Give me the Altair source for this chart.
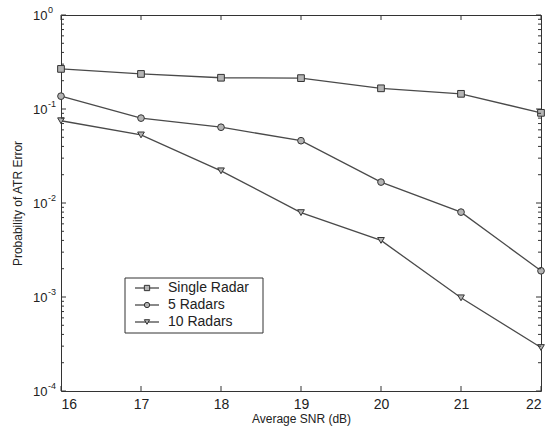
import altair as alt
import pandas as pd

# Probability of ATR error versus average SNR for one, five and ten radars
snr_db = [16, 17, 18, 19, 20, 21, 22]
single_radar = [0.267, 0.236, 0.215, 0.213, 0.166, 0.145, 0.091]
five_radars = [0.137, 0.080, 0.064, 0.046, 0.0167, 0.008, 0.0019]
ten_radars = [0.075, 0.053, 0.022, 0.0079, 0.004, 0.00098, 0.00029]
series_names = ["Single Radar", "5 Radars", "10 Radars"]
y_decades = [1e-4, 1e-3, 1e-2, 1e-1, 1.0]
y_exponents = ["-4", "-3", "-2", "-1", "0"]

W, H = 480, 376
LINE = "#4a4a4a"
FONT = "Liberation Sans"
SHAPES = ["square", "circle", "triangle-down"]

rows = []
for name, vals in zip(series_names, [single_radar, five_radars, ten_radars]):
    for s, p in zip(snr_db, vals):
        rows.append({"snr": s, "p": p, "series": name})
df = pd.DataFrame(rows)

x_enc = alt.X(
    "snr:Q",
    scale=alt.Scale(domain=[16, 22], nice=False, zero=False),
    axis=alt.Axis(values=snr_db, ticks=False, domain=False, grid=False,
                  labelFontSize=14, labelPadding=6, labelColor="#222",
                  labelFont=FONT, title="Average SNR (dB)", titleFont=FONT,
                  titleFontSize=12, titleFontWeight="normal", titleColor="#222",
                  titlePadding=2),
)
y_enc = alt.Y(
    "p:Q",
    scale=alt.Scale(type="log", domain=[1e-4, 1], nice=False),
    axis=alt.Axis(values=y_decades, ticks=False, domain=False, grid=False,
                  labelExpr="'10'", labelFontSize=13, labelPadding=14,
                  labelColor="#222", labelFont=FONT,
                  title="Probability of ATR Error", titleFont=FONT,
                  titleFontSize=12, titleFontWeight="normal", titleColor="#222",
                  titlePadding=8),
)
shape_enc = alt.Shape("series:N", scale=alt.Scale(domain=series_names, range=SHAPES),
                      legend=None)

lines = alt.Chart(df).mark_line(color=LINE, strokeWidth=1.3).encode(
    x=x_enc, y=y_enc, detail="series:N")
points = alt.Chart(df).mark_point(
    filled=False, fill="#b4b4b4", fillOpacity=1, stroke="#333", strokeWidth=1,
    opacity=1, size=45).encode(x=x_enc, y=y_enc, shape=shape_enc)

# exponent text next to the "10" labels
exp_df = pd.DataFrame({"p": y_decades, "e": y_exponents})
exponents = alt.Chart(exp_df).mark_text(
    align="left", baseline="middle", fontSize=9, font=FONT, color="#222", dy=-5
).encode(y=y_enc, x=alt.value(-13), text="e:N")

# inward major/minor ticks on all four sides
xt_df = pd.DataFrame({"snr": snr_db})
x_ticks_bot = alt.Chart(xt_df).mark_rule(color="#333").encode(
    x=x_enc, y=alt.value(H), y2=alt.value(H - 5))
x_ticks_top = alt.Chart(xt_df).mark_rule(color="#333").encode(
    x=x_enc, y=alt.value(0), y2=alt.value(5))

minor = [m * 10.0 ** k for k in range(-4, 0) for m in range(2, 10)]
yt_major = pd.DataFrame({"p": y_decades})
yt_minor = pd.DataFrame({"p": minor})
y_ticks = []
for d, ln in [(yt_major, 5), (yt_minor, 3)]:
    y_ticks.append(alt.Chart(d).mark_rule(color="#333").encode(
        y=y_enc, x=alt.value(0), x2=alt.value(ln)))
    y_ticks.append(alt.Chart(d).mark_rule(color="#333").encode(
        y=y_enc, x=alt.value(W - ln), x2=alt.value(W)))

# legend box
one = pd.DataFrame({"k": [0]})
legend_layers = [
    alt.Chart(one).mark_rect(fill="white", stroke="#333", strokeWidth=1).encode(
        x=alt.value(64), x2=alt.value(202), y=alt.value(263), y2=alt.value(318))
]
for i, (name, shp) in enumerate(zip(series_names, SHAPES)):
    ly = 273 + 17 * i
    nd = pd.DataFrame({"name": [name]})
    legend_layers.append(alt.Chart(nd).mark_rule(color=LINE, strokeWidth=1.3).encode(
        x=alt.value(74), x2=alt.value(98), y=alt.value(ly)))
    legend_layers.append(alt.Chart(nd).mark_point(
        filled=False, fill="#b4b4b4", fillOpacity=1, stroke="#333", strokeWidth=1,
        opacity=1, size=28, shape=shp).encode(x=alt.value(86), y=alt.value(ly)))
    legend_layers.append(alt.Chart(nd).mark_text(
        align="left", baseline="middle", fontSize=14, font=FONT, color="#222"
    ).encode(x=alt.value(107), y=alt.value(ly), text="name:N"))

chart = alt.layer(
    lines, points, exponents, x_ticks_bot, x_ticks_top, *y_ticks, *legend_layers
).properties(
    width=W, height=H,
    autosize=alt.AutoSizeParams(type="none"),
    padding={"left": 61, "top": 15, "right": 10, "bottom": 41},
    background="white",
).configure_view(stroke="#333", strokeWidth=1)

chart.save("out.html", embed_options={"renderer": "svg", "actions": False})
